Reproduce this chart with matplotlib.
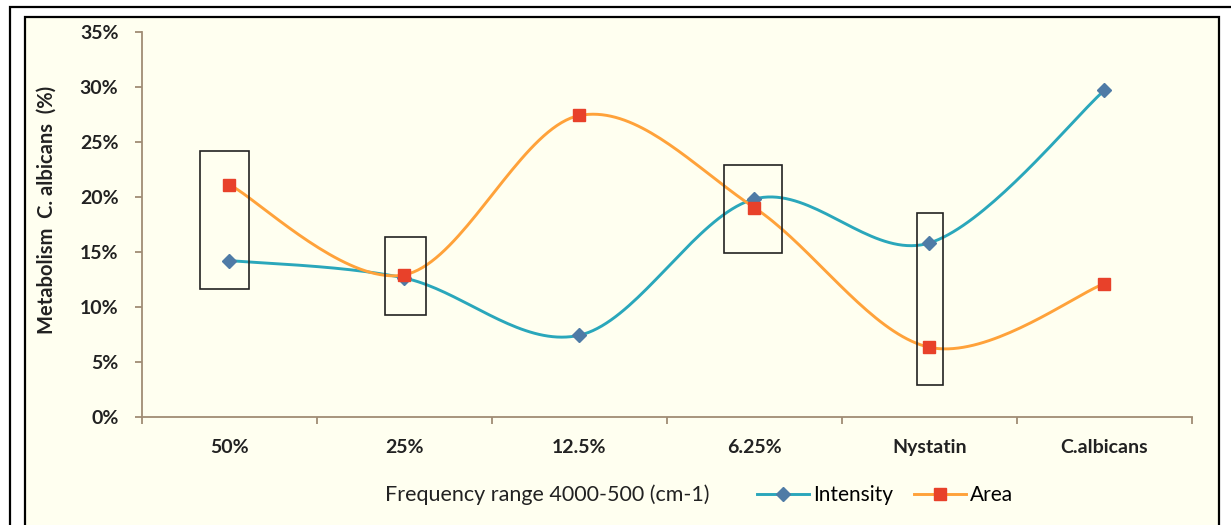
import numpy as np
import matplotlib
matplotlib.use("Agg")
import matplotlib.pyplot as plt
from matplotlib.patches import Rectangle
from matplotlib.ticker import PercentFormatter, FixedLocator

plt.rcParams['font.family'] = ['Lato', 'DejaVu Sans']

categories = ["50%", "25%", "12.5%", "6.25%", "Nystatin", "C.albicans"]
intensity = [14.2, 12.6, 7.4, 19.8, 15.8, 29.7]
area = [21.1, 12.9, 27.4, 19.0, 6.3, 12.1]

# highlight boxes: (x left, x right, y low, y high) in category / percent units
boxes = [
    (-0.166, 0.114, 11.6, 24.2),
    (0.886, 1.124, 9.2, 16.3),
    (2.823, 3.160, 14.9, 22.9),
    (3.930, 4.076, 2.9, 18.5),
]


# Excel-like smoothed line (Catmull-Rom through the points)
def smooth(vals, n=40):
    pts = np.column_stack([np.arange(len(vals)), vals]).astype(float)
    padded = np.vstack([pts[0], pts, pts[-1]])
    t = np.linspace(0, 1, n)[:, None]
    out = []
    for i in range(1, len(padded) - 2):
        p0, p1, p2, p3 = padded[i - 1], padded[i], padded[i + 1], padded[i + 2]
        c1 = p1 + (p2 - p0) / 6
        c2 = p2 - (p3 - p1) / 6
        seg = ((1 - t) ** 3) * p1 + 3 * ((1 - t) ** 2) * t * c1 + 3 * (1 - t) * t ** 2 * c2 + t ** 3 * p2
        out.append(seg)
    out = np.vstack(out)
    return out[:, 0], out[:, 1]


W, H = 1231, 525
fig = plt.figure(figsize=(W / 100, H / 100), dpi=100)
fig.patch.set_facecolor('white')

# outer and inner frames
fig.add_artist(Rectangle((10 / W, -0.05), 1.1, 1 - 7 / H + 0.05, transform=fig.transFigure,
                         fill=False, edgecolor='black', linewidth=1.6, zorder=0))
fig.add_artist(Rectangle((25 / W, -0.05), (1219 - 25) / W, 1 - 16.5 / H + 0.05, transform=fig.transFigure,
                         facecolor='#fffff0', edgecolor='black', linewidth=1.6, zorder=0))

ax = fig.add_axes([142 / W, 1 - 416.5 / H, (1192 - 142) / W, (416.5 - 32) / H])
ax.set_facecolor('none')

x = np.arange(len(categories))
sx, sy = smooth(intensity)
ax.plot(sx, sy, color='#2aa7bb', linewidth=2.1, zorder=3)
ax.plot(x, intensity, linestyle='none', marker='D', markersize=7.5, color='#4f7ba6', zorder=4)
sx, sy = smooth(area)
ax.plot(sx, sy, color='#ffa23a', linewidth=2.1, zorder=3)
ax.plot(x, area, linestyle='none', marker='s', markersize=9, color='#e8412a', zorder=5)

for x0, x1, y0, y1 in boxes:
    ax.add_patch(Rectangle((x0, y0), x1 - x0, y1 - y0, fill=False, edgecolor='#222222',
                           linewidth=1.2, zorder=6))

ax.set_xlim(-0.5, len(categories) - 0.5)
ax.set_ylim(0, 35)
ax.set_yticks(np.arange(0, 36, 5))
ax.yaxis.set_major_formatter(PercentFormatter(decimals=0))
ax.set_xticks(x)
ax.set_xticklabels(categories)
ax.xaxis.set_minor_locator(FixedLocator(np.arange(-0.5, len(categories), 1.0)))

for s in ['top', 'right']:
    ax.spines[s].set_visible(False)
for s in ['left', 'bottom']:
    ax.spines[s].set_color('#a08c74')
    ax.spines[s].set_linewidth(1.3)

ax.tick_params(axis='y', length=5, width=1.3, color='#a08c74', pad=12, labelsize=14, labelcolor='#222222')
ax.tick_params(axis='x', which='major', length=0, pad=16, labelsize=14, labelcolor='#222222')
ax.tick_params(axis='x', which='minor', length=5, width=1.3, color='#a08c74')
for lbl in ax.get_xticklabels() + ax.get_yticklabels():
    lbl.set_fontweight('bold')

fig.text(47 / W, 1 - 210 / H, "Metabolism  C. albicans  (%)", rotation=90, ha='center', va='center',
         fontsize=14.5, fontweight='bold', color='#222222')
fig.text(385 / W, 1 - 495 / H, "Frequency range 4000-500 (cm-1)", ha='left', va='center',
         fontsize=15.5, color='#222222')

handles = [
    plt.Line2D([], [], color='#2aa7bb', linewidth=2.1, marker='D', markersize=7,
               markerfacecolor='#4f7ba6', markeredgecolor='#4f7ba6'),
    plt.Line2D([], [], color='#ffa23a', linewidth=2.1, marker='s', markersize=8.5,
               markerfacecolor='#e8412a', markeredgecolor='#e8412a'),
]
fig.legend(handles, ["Intensity", "Area"], loc='center left', bbox_to_anchor=(757 / W, 1 - 495 / H),
           ncol=2, frameon=False, fontsize=15, handlelength=2.5, handletextpad=0.2,
           columnspacing=1.0, borderpad=0, borderaxespad=0)

fig.savefig("out.png", dpi=100)
